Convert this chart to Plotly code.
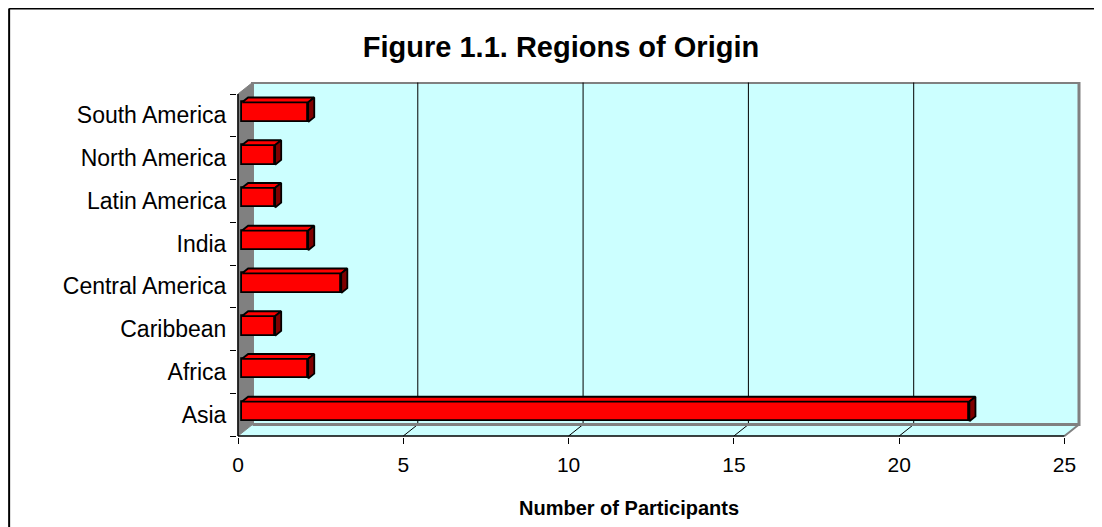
import plotly.graph_objects as go

# ---- data ----
categories = ["Asia", "Africa", "Caribbean", "Central America", "India",
              "Latin America", "North America", "South America"]
participants = [22, 2, 1, 3, 2, 1, 1, 2]
x_ticks = [0, 5, 10, 15, 20, 25]

# ---- geometry (pseudo-3D, in axis units) ----
XMAX = 25
PX_X = 33.08           # px per x unit
PX_Y = 42.75           # px per category
DX = 14.5 / PX_X       # depth offset of back wall (x units)
DY = 11.5 / PX_Y       # depth offset of back wall (y units)
F1, F2 = 0.28, 0.70    # bar front / back depth fractions
BAR_H = 0.46
YB, YT = -0.5, len(categories) - 0.5

OFF = 8                # page body margin
W, H = 1102 - OFF, 527 - OFF
L, R, T, B = 236.5 - OFF, 21, 82 - OFF, 90
plot_w = W - L - R
plot_h = H - T - B
x_range = [-1 / PX_X, -1 / PX_X + plot_w / PX_X]
y_range = [YB - 1 / PX_Y, YB - 1 / PX_Y + plot_h / PX_Y]

FONT = "Arial, Liberation Sans, sans-serif"
fig = go.Figure()


def px2paper_x(px):
    return (px - OFF - L) / plot_w


def py2paper_y(py):
    return (H - B - (py - OFF)) / plot_h


shapes = []
# back wall
shapes.append(dict(type="rect", xref="x", yref="y", layer="below",
                   x0=DX, x1=XMAX + DX, y0=YB + DY, y1=YT + DY,
                   fillcolor="#CCFFFF", line=dict(color="#808080", width=3)))
# floor
shapes.append(dict(type="path", xref="x", yref="y", layer="below",
                   path=f"M0,{YB} L{XMAX},{YB} L{XMAX+DX},{YB+DY} L{DX},{YB+DY} Z",
                   fillcolor="#CCFFFF", line=dict(width=0)))
# left wall
shapes.append(dict(type="path", xref="x", yref="y", layer="below",
                   path=f"M0,{YB} L0,{YT} L{DX},{YT+DY} L{DX},{YB+DY} Z",
                   fillcolor="#808080", line=dict(color="#808080", width=1)))
# gridlines on back wall and floor
for v in x_ticks[1:-1]:
    shapes.append(dict(type="line", xref="x", yref="y", layer="below",
                       x0=v + DX, x1=v + DX, y0=YB + DY, y1=YT + DY,
                       line=dict(color="#000000", width=1)))
    shapes.append(dict(type="line", xref="x", yref="y", layer="below",
                       x0=v, x1=v + DX, y0=YB, y1=YB + DY,
                       line=dict(color="#000000", width=1)))
# floor right edge
shapes.append(dict(type="line", xref="x", yref="y", layer="below",
                   x0=XMAX, x1=XMAX + DX, y0=YB, y1=YB + DY,
                   line=dict(color="#808080", width=2)))
# back wall bottom edge
shapes.append(dict(type="line", xref="x", yref="y", layer="below",
                   x0=DX, x1=XMAX + DX, y0=YB + DY, y1=YB + DY,
                   line=dict(color="#808080", width=3)))
# front axis lines
shapes.append(dict(type="line", xref="x", yref="y", layer="above",
                   x0=0, x1=XMAX, y0=YB, y1=YB, line=dict(color="#000000", width=1.5)))
shapes.append(dict(type="line", xref="x", yref="y", layer="above",
                   x0=0, x1=0, y0=YB, y1=YT, line=dict(color="#000000", width=1.5)))

# outer frame (left and top edges; the rest is cropped)
shapes.append(dict(type="line", xref="paper", yref="paper",
                   x0=px2paper_x(8.5), x1=px2paper_x(8.5), y0=py2paper_y(8.5), y1=py2paper_y(540),
                   line=dict(color="#000000", width=2)))
shapes.append(dict(type="line", xref="paper", yref="paper",
                   x0=px2paper_x(8.5), x1=px2paper_x(1110), y0=py2paper_y(8.5), y1=py2paper_y(8.5),
                   line=dict(color="#000000", width=2)))

# ---- bars ----
ox1, oy1 = F1 * DX, F1 * DY
ox2, oy2 = F2 * DX, F2 * DY
ypos = list(range(len(categories)))

fig.add_trace(go.Bar(
    x=participants, y=[c + oy1 for c in ypos], base=[ox1] * len(participants),
    orientation="h", width=BAR_H,
    marker=dict(color="#FF0000", line=dict(color="#000000", width=1.8)),
    hoverinfo="skip", showlegend=False))

for c, v in zip(ypos, participants):
    top = c + BAR_H / 2
    bot = c - BAR_H / 2
    # top face
    fig.add_trace(go.Scatter(
        x=[ox1, v + ox1, v + ox2, ox2, ox1],
        y=[top + oy1, top + oy1, top + oy2, top + oy2, top + oy1],
        mode="lines", fill="toself", fillcolor="#FF0000",
        line=dict(color="#000000", width=1.8), hoverinfo="skip", showlegend=False))
    # side face
    fig.add_trace(go.Scatter(
        x=[v + ox1, v + ox1, v + ox2, v + ox2, v + ox1],
        y=[bot + oy1, top + oy1, top + oy2, bot + oy2, bot + oy1],
        mode="lines", fill="toself", fillcolor="#800000",
        line=dict(color="#000000", width=1.8), hoverinfo="skip", showlegend=False))

fig.update_layout(
    width=W, height=H,
    margin=dict(l=L, r=R, t=T, b=B, pad=0),
    paper_bgcolor="white", plot_bgcolor="white",
    font=dict(family=FONT, color="#000000", size=20),
    title=dict(text="<b>Figure 1.1. Regions of Origin</b>", x=(561 - OFF) / W, xanchor="center",
               y=1 - (47 - OFF) / H, yanchor="middle", font=dict(size=29, family=FONT)),
    shapes=shapes,
    bargap=0,
    annotations=[dict(text="<b>Number of Participants</b>", xref="paper", yref="paper",
                      x=px2paper_x(629), y=py2paper_y(508), xanchor="center", yanchor="middle",
                      showarrow=False, font=dict(size=20, family=FONT))],
)
fig.update_xaxes(range=x_range, tickvals=x_ticks, ticks="outside", ticklen=6,
                 tickcolor="#000000", tickwidth=1, showgrid=False, zeroline=False,
                 showline=False, tickfont=dict(size=21, family=FONT), fixedrange=True,
                 ticklabelstandoff=3)
fig.update_yaxes(range=y_range, tickvals=ypos, ticktext=categories, ticks="outside",
                 ticklen=5, tickcolor="rgba(0,0,0,0)", showgrid=False, zeroline=False,
                 showline=False, tickfont=dict(size=23, family=FONT), fixedrange=True,
                 minor=dict(tickmode="array", tickvals=[YB + i for i in range(len(categories) + 1)],
                            ticks="outside", ticklen=6, tickcolor="#000000", tickwidth=1,
                            showgrid=False))

fig.write_html("out.html")
